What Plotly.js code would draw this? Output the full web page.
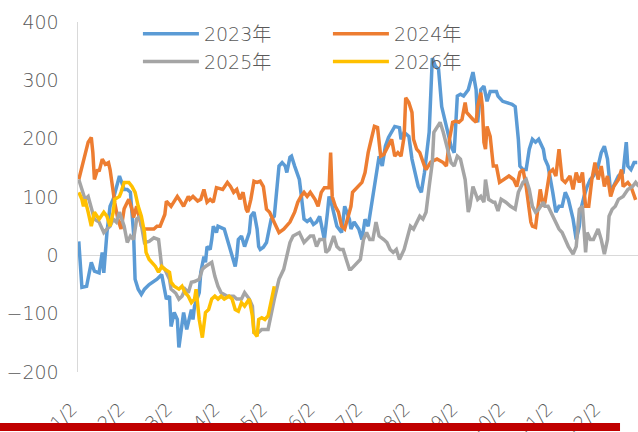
<!DOCTYPE html>
<html><head><meta charset="utf-8">
<script src="https://cdn.plot.ly/plotly-3.0.1.min.js"></script>
<style>html,body{margin:0;padding:0;background:#fff;} #chart{width:638px;height:432px;}</style>
</head><body><div id="chart"></div>
<script>
const monthLabels = ['1/2','2/2','3/2','4/2','5/2','6/2','7/2','8/2','9/2','10/2','11/2','12/2'];
const seriesNames = ['2023年','2024年','2025年','2026年'];

// [day of year, value]
const s2023 = [[2,24],[4,-55],[7,-53],[10,-12],[12,-27],[15,-30],[17,5],[18,-30],[20,39],[22,84],[24,96],[26,118],[28,136],[31,113],[33,113],[35,108],[37,39],[38,-41],[40,-58],[42,-67],[44,-58],[47,-50],[52,-41],[55,-33],[58,-75],[60,-70],[61,-122],[63,-98],[65,-110],[66,-158],[68,-122],[69,-98],[71,-127],[74,-93],[75,-110],[76,-87],[79,-64],[80,-29],[82,-2],[83,-12],[84,15],[86,10],[87,27],[88,50],[90,39],[91,50],[95,45],[97,27],[98,22],[101,-7],[102,-19],[103,-2],[104,27],[106,33],[108,15],[111,39],[112,67],[114,74],[116,45],[117,15],[118,10],[120,14],[122,22],[125,62],[127,67],[130,153],[132,159],[134,153],[135,142],[137,168],[138,170],[140,153],[143,130],[144,108],[146,62],[148,58],[150,62],[152,53],[154,57],[156,67],[159,27],[161,74],[162,101],[164,84],[166,57],[167,50],[170,39],[172,84],[175,62],[176,45],[178,57],[181,45],[183,27],[185,62],[187,50],[189,84],[191,113],[194,170],[196,153],[198,187],[200,202],[202,211],[204,221],[207,219],[208,199],[210,211],[213,204],[215,165],[217,142],[219,118],[221,108],[223,142],[226,211],[227,290],[228,338],[230,324],[232,319],[234,255],[236,233],[238,211],[240,187],[242,176],[244,273],[246,276],[248,273],[251,284],[253,302],[254,314],[256,284],[257,228],[259,284],[261,290],[263,264],[265,281],[269,281],[270,273],[273,264],[276,262],[279,259],[281,255],[283,199],[284,153],[286,147],[288,147],[290,182],[292,199],[294,194],[296,199],[299,182],[300,165],[302,153],[305,108],[307,74],[309,84],[311,84],[313,108],[315,96],[318,62],[320,27],[322,50],[323,79],[325,101],[327,118],[329,130],[331,136],[334,153],[336,176],[338,187],[340,165],[342,108],[344,118],[347,136],[350,142],[352,194],[353,153],[355,147],[357,159],[359,159]];

const s2024 = [[2,130],[4,153],[6,176],[8,194],[10,202],[11,176],[12,130],[14,147],[15,144],[17,165],[19,156],[21,159],[22,147],[23,125],[25,90],[27,62],[29,45],[30,62],[31,80],[33,91],[34,96],[36,79],[37,65],[39,84],[40,74],[42,50],[44,45],[47,45],[50,45],[52,50],[54,50],[57,70],[58,93],[61,84],[65,101],[67,93],[69,84],[72,101],[73,96],[75,101],[78,93],[80,96],[82,113],[84,91],[86,96],[88,91],[90,116],[94,113],[97,125],[99,118],[101,108],[103,113],[105,96],[107,108],[109,79],[110,74],[112,96],[114,127],[116,125],[118,127],[120,118],[122,79],[124,74],[126,62],[128,50],[130,39],[133,45],[135,50],[137,57],[140,74],[142,91],[144,101],[146,108],[148,101],[150,108],[153,96],[155,84],[157,108],[159,116],[162,116],[163,176],[164,101],[166,84],[168,74],[170,50],[172,45],[174,67],[176,84],[177,108],[179,113],[181,118],[183,125],[185,142],[187,176],[189,199],[191,221],[193,219],[195,170],[197,173],[200,187],[202,199],[204,170],[206,176],[208,170],[210,204],[211,270],[213,262],[215,245],[216,199],[218,182],[220,176],[223,153],[224,147],[227,160],[231,165],[235,159],[237,153],[239,199],[241,228],[243,230],[245,228],[247,233],[249,262],[250,245],[252,238],[254,233],[256,228],[257,255],[259,279],[260,255],[261,194],[262,182],[263,221],[265,204],[267,153],[269,153],[271,125],[274,130],[277,136],[280,130],[282,118],[284,142],[286,147],[288,118],[291,57],[292,50],[294,48],[297,113],[299,84],[300,91],[303,142],[305,147],[307,136],[309,182],[311,130],[313,125],[316,136],[318,113],[320,142],[322,125],[324,142],[326,84],[328,84],[330,130],[332,159],[334,130],[336,153],[338,118],[340,136],[342,101],[344,118],[347,130],[349,147],[350,118],[353,125],[355,118],[358,95]];

const s2025 = [[2,130],[4,113],[6,96],[8,101],[10,79],[12,62],[15,57],[18,39],[20,45],[22,50],[24,62],[26,57],[28,74],[31,50],[33,22],[35,33],[37,27],[39,62],[41,67],[44,22],[47,24],[50,30],[53,27],[55,-19],[57,-24],[60,-41],[61,-58],[64,-65],[66,-75],[68,-70],[70,-58],[72,-64],[74,-46],[76,-45],[79,-41],[81,-24],[83,-19],[85,-15],[87,-12],[89,-36],[91,-53],[93,-64],[97,-70],[101,-70],[103,-75],[106,-75],[108,-64],[111,-75],[113,-87],[114,-132],[117,-132],[119,-127],[121,-127],[123,-127],[127,-75],[130,-41],[133,-24],[135,-2],[137,22],[139,33],[141,36],[143,39],[146,22],[148,27],[150,33],[152,33],[154,15],[156,27],[159,27],[160,5],[162,10],[165,33],[167,15],[169,10],[171,10],[173,-7],[175,-24],[176,-24],[178,-19],[182,-7],[184,27],[186,39],[188,27],[190,27],[192,57],[194,33],[197,27],[199,22],[201,10],[203,5],[205,10],[207,-7],[210,10],[212,33],[214,50],[216,45],[218,57],[220,67],[222,62],[224,74],[226,118],[228,159],[229,211],[231,221],[233,228],[235,211],[238,182],[240,159],[242,153],[244,170],[246,165],[248,142],[249,130],[251,74],[252,84],[254,118],[257,96],[259,101],[261,91],[262,130],[263,113],[264,96],[267,91],[268,91],[270,76],[272,96],[275,91],[278,84],[281,79],[283,108],[286,125],[288,130],[290,113],[292,84],[294,74],[296,79],[299,91],[300,84],[302,84],[305,67],[307,57],[309,45],[311,39],[313,27],[315,15],[318,2],[320,15],[322,79],[324,84],[326,5],[327,39],[329,27],[331,27],[334,45],[336,27],[338,2],[340,27],[341,67],[343,79],[345,84],[347,96],[350,101],[352,108],[353,113],[356,118],[358,125],[360,118]];

const s2026 = [[2,108],[4,96],[5,84],[6,96],[8,74],[10,50],[12,74],[14,67],[15,62],[18,74],[20,67],[22,50],[24,74],[25,96],[28,101],[29,108],[31,125],[34,125],[36,118],[38,108],[40,84],[42,67],[44,39],[45,5],[47,-7],[51,-19],[53,-29],[55,-19],[57,-24],[60,-29],[61,-46],[63,-53],[66,-58],[68,-53],[70,-64],[72,-70],[74,-81],[76,-75],[77,-58],[79,-110],[81,-141],[83,-98],[85,-93],[87,-75],[89,-70],[91,-75],[93,-70],[95,-75],[98,-70],[100,-75],[102,-93],[104,-96],[106,-81],[108,-87],[111,-75],[113,-104],[114,-132],[116,-139],[117,-110],[119,-107],[121,-110],[123,-104],[127,-53]];

const colors = ['#5B9BD5','#ED7D31','#A5A5A5','#FFC000'];
const allSeries = [s2023, s2024, s2025, s2026];
const FONT = '"DejaVu Sans", "Noto Sans CJK SC", sans-serif';

const traces = allSeries.map((pts, i) => ({
  type:'scatter', mode:'lines', name: seriesNames[i],
  x: pts.map(p => p[0]), y: pts.map(p => p[1]),
  line:{color: colors[i], width:3.5}, hoverinfo:'skip'
}));

const tickvals = monthLabels.map((_, i) => 2 + i * 365 / 12);

const layout = {
  width:638, height:432,
  margin:{l:78, r:0, t:22, b:60},
  paper_bgcolor:'#ffffff', plot_bgcolor:'#ffffff',
  showlegend:true,
  legend:{orientation:'h', x:0.107, xanchor:'left', y:1.02, yanchor:'top',
    entrywidth:119, itemwidth:56,
    font:{family:FONT, size:19, color:'#595959', weight:300}, bgcolor:'rgba(0,0,0,0)'},
  xaxis:{range:[1.5, 359.5], tickmode:'array', tickvals: tickvals, ticktext: monthLabels,
    tickangle:-45, showgrid:false, zeroline:false, showline:false, ticks:'',
    ticklabelstandoff:22, ticklabelshift:-7, tickfont:{family:FONT, size:18, color:'#595959', weight:300}},
  yaxis:{range:[-200, 400], dtick:100, tick0:0, showgrid:false,
    zeroline:true, zerolinecolor:'#d9d9d9', zerolinewidth:1.5,
    showline:true, linecolor:'#d9d9d9', linewidth:1.5, ticks:'',
    ticklabelstandoff:14, tickfont:{family:FONT, size:19, color:'#595959', weight:300}},
  shapes:[{type:'rect', xref:'paper', yref:'paper', x0:-0.1393, x1:0.9679, y0:-0.1686, y1:-0.1457,
    fillcolor:'#C00000', line:{width:0}, layer:'above'}]
};

Plotly.newPlot('chart', traces, layout, {staticPlot:true, displayModeBar:false});
</script>
</body></html>
